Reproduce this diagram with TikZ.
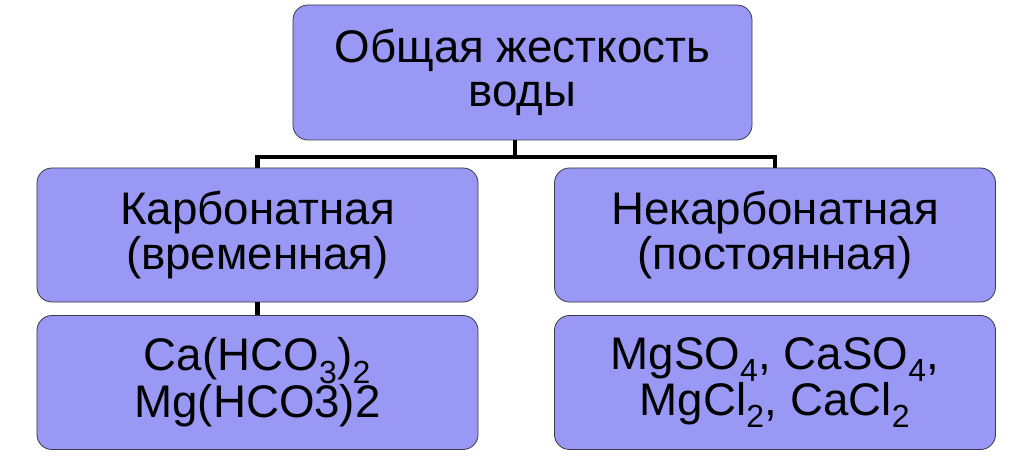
\documentclass[tikz,border=0pt]{standalone}
\usepackage{fontspec}
\setmainfont{Liberation Sans}
\usetikzlibrary{positioning}
\definecolor{boxfill}{HTML}{9999F5}
\definecolor{boxline}{HTML}{3A3A4A}
\newcommand{\ind}[1]{\textsubscript{#1}}
\begin{document}
\begin{tikzpicture}[x=0.03cm,y=-0.03cm]
\tikzstyle{box}=[rectangle, rounded corners=0.45cm, fill=boxfill, draw=boxline, line width=0.7pt, align=center, font=\fontsize{39}{38}\selectfont, minimum width=13.23cm, minimum height=4.02cm]
\tikzstyle{link}=[line width=3.6pt, black]

\useasboundingbox (0,0) rectangle (1024,460);
\node[box, minimum width=13.77cm, minimum height=4.05cm] at (522.5,72.5) (total) {Общая жесткость\\воды};
\node[box] at (257.5,235) (carb) {Карбонатная\\(временная)};
\node[box] at (775,235) (noncarb) {Некарбонатная\\(постоянная)};
\node[box] at (257.5,382.5) (carbsalt) {Ca(HCO\ind{3})\ind{2}\\Mg(HCO3)2};
\node[box] at (775,382.5) (noncarbsalt) {MgSO\ind{4}, CaSO\ind{4},\\MgCl\ind{2}, CaCl\ind{2}};
\coordinate (fork) at (515,157);
\draw[link] (total.south -| fork) -- (fork) -| (carb.north);
\draw[link] (fork) -| (noncarb.north);
\draw[link] (carb.south) -- (carbsalt.north);
\end{tikzpicture}
\end{document}
